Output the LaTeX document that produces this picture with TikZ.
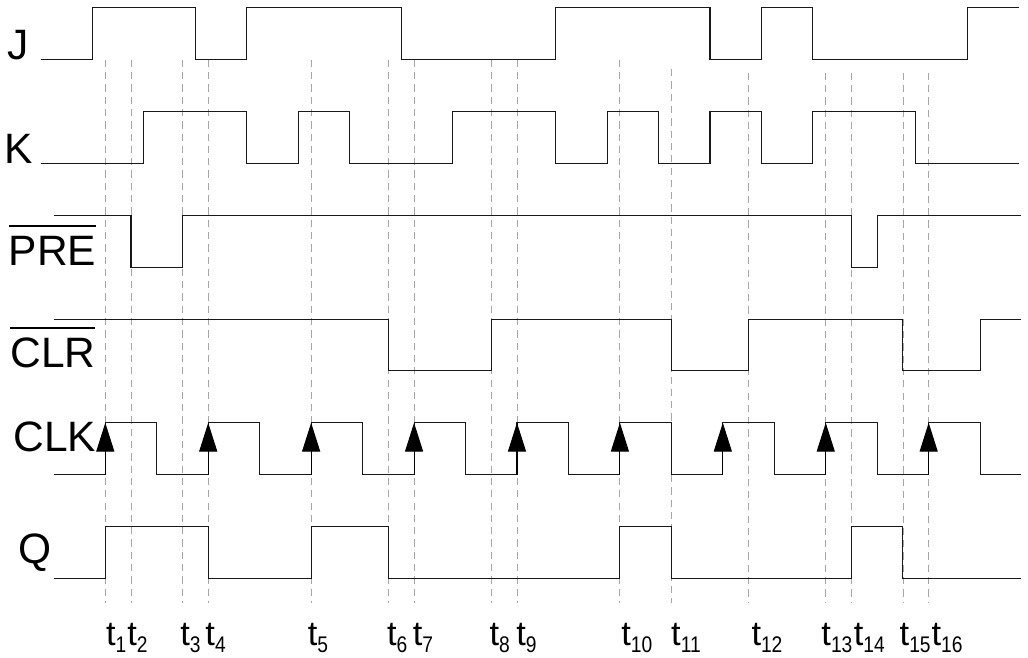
\documentclass[tikz,border=0pt]{standalone}
\usepackage{fontspec}
\setmainfont{Liberation Sans}
\usepackage{graphicx}
\usepackage{tikz}
\usetikzlibrary{arrows.meta}

\newcommand{\ovl}[1]{\vbox{\hrule height 1pt\kern 5pt\hbox{#1}}}
\newcommand{\tlab}[1]{t\raisebox{-3.8pt}{\scalebox{0.85}[1]{\fontsize{12.5}{13}\selectfont #1}}}

\begin{document}
\begin{tikzpicture}[
    x=1cm, y=1.0076cm,
    wave/.style={draw=black!90, line width=0.6pt},
    guide/.style={draw=black!35, line width=0.5pt, dash pattern=on 4pt off 2.8pt},
    edge/.style={->, draw=black, fill=black, line width=0.6pt},
    siglabel/.style={anchor=base west, inner sep=0pt, font=\fontsize{23.5}{24}\selectfont},
    timelabel/.style={anchor=base west, inner sep=0pt, font=\fontsize{19}{20}\selectfont},
    >={Triangle[width=0.35cm, length=0.56cm]}
]
\useasboundingbox (-2.046,-1.518) rectangle (17.93,11.153);

% Guides
\draw[guide] (0,10) -- (0,-0.48);
\draw[guide] (0.5,10) -- (0.5,-0.48);
\draw[guide] (1.5,10) -- (1.5,-0.48);
\draw[guide] (2,10) -- (2,-0.48);
\draw[guide] (4,10) -- (4,-0.48);
\draw[guide] (5.5,10) -- (5.5,-0.48);
\draw[guide] (6,10) -- (6,-0.48);
\draw[guide] (7.5,10) -- (7.5,-0.48);
\draw[guide] (8,10) -- (8,-0.48);
\draw[guide] (10,10) -- (10,-0.48);
\draw[guide] (11,9.82) -- (11,-0.48);
\draw[guide] (12.5,9.75) -- (12.5,-0.48);
\draw[guide] (14,9.75) -- (14,-0.48);
\draw[guide] (14.5,9.75) -- (14.5,-0.48);
\draw[guide] (15.5,9.75) -- (15.5,-0.48);
\draw[guide] (16,9.75) -- (16,-0.48);

% Signal names
\node[siglabel] (j) at (-1.91,10) {J};
\node[siglabel] (k) at (-1.96,8) {K};
\node[siglabel] (pre) at (-1.88,6.04) {\ovl{PRE}};
\node[siglabel] (clr) at (-1.85,4.06) {\ovl{CLR}};
\node[siglabel] (clk) at (-1.79,2.44) {CLK};
\node[siglabel] (q) at (-1.69,0.28) {Q};

% Waveforms
\draw[wave] (-1.25,10) -| (-0.25,11) -| (1.75,10) -| (2.75,11) -| (5.75,10) -| (8.75,11) -| (11.75,10) -| (12.75,11) -| (13.75,10) -| (16.75,11) -- (17.75,11);
\draw[wave] (-1.25,8) -| (0.75,9) -| (2.75,8) -| (3.75,9) -| (4.75,8) -| (6.75,9) -| (8.75,8) -| (9.75,9) -| (10.75,8) -| (11.75,9) -| (12.75,8) -| (13.75,9) -| (15.75,8) -- (17.75,8);
\draw[wave] (-1,7) -| (0.5,6) -| (1.5,7) -| (14.5,6) -| (15,7) -- (17.8,7);
\draw[wave] (-1,5) -| (5.5,4) -| (7.5,5) -| (11,4) -| (12.5,5) -| (15.5,4) -| (17,5) -- (17.8,5);
\draw[wave] (-1,2) -| (0,3) -| (1,2) -| (2,3) -| (3,2) -| (4,3) -| (5,2) -| (6,3) -| (7,2) -| (8,3) -| (9,2) -| (10,3) -| (11,2) -| (12,3) -| (13,2) -| (14,3) -| (15,2) -| (16,3) -| (17,2) -- (17.8,2);
\draw[wave] (-1,0) -| (0,1) -| (2,0) -| (4,1) -| (5.5,0) -| (10,1) -| (11,0) -| (14.5,1) -| (15.5,0) -- (17.8,0);

% Rising edges of CLK
\draw[edge] (0,2) -- (0,3);
\draw[edge] (2,2) -- (2,3);
\draw[edge] (4,2) -- (4,3);
\draw[edge] (6,2) -- (6,3);
\draw[edge] (8,2) -- (8,3);
\draw[edge] (10,2) -- (10,3);
\draw[edge] (12,2) -- (12,3);
\draw[edge] (14,2) -- (14,3);
\draw[edge] (16,2) -- (16,3);

% Time marks
\node[timelabel] (t1) at (0.01,-1.3) {\tlab{1}};
\node[timelabel] (t2) at (0.42,-1.3) {\tlab{2}};
\node[timelabel] (t3) at (1.45,-1.3) {\tlab{3}};
\node[timelabel] (t4) at (1.94,-1.3) {\tlab{4}};
\node[timelabel] (t5) at (3.93,-1.3) {\tlab{5}};
\node[timelabel] (t6) at (5.47,-1.3) {\tlab{6}};
\node[timelabel] (t7) at (5.97,-1.3) {\tlab{7}};
\node[timelabel] (t8) at (7.46,-1.3) {\tlab{8}};
\node[timelabel] (t9) at (7.98,-1.3) {\tlab{9}};
\node[timelabel] (t10) at (10.02,-1.3) {\tlab{10}};
\node[timelabel] (t11) at (10.99,-1.3) {\tlab{11}};
\node[timelabel] (t12) at (12.55,-1.3) {\tlab{12}};
\node[timelabel] (t13) at (13.91,-1.3) {\tlab{13}};
\node[timelabel] (t14) at (14.54,-1.3) {\tlab{14}};
\node[timelabel] (t15) at (15.43,-1.3) {\tlab{15}};
\node[timelabel] (t16) at (16.05,-1.3) {\tlab{16}};

\end{tikzpicture}
\end{document}
